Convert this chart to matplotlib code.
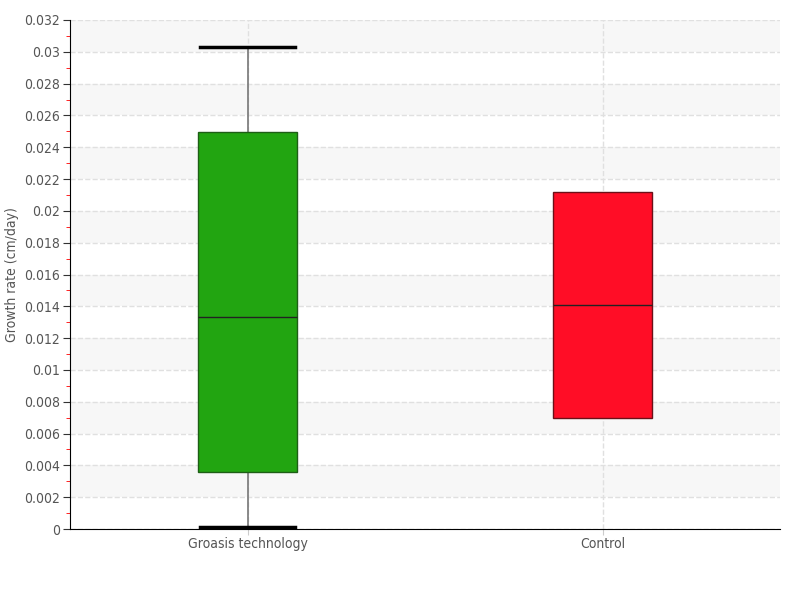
import matplotlib.pyplot as plt
from matplotlib.ticker import MultipleLocator, FuncFormatter

plt.rcParams['font.family'] = ['DejaVu Sans']
plt.rcParams['font.stretch'] = 'condensed'

groups = ["Groasis technology", "Control"]
whislo = [0.0001, 0.00698]
q1 = [0.00358, 0.00698]
med = [0.01335, 0.01408]
q3 = [0.02496, 0.02119]
whishi = [0.0303, 0.02119]
colors = ["#22a511", "#ff0d26"]
edges = ["#1e5e16", "#6b1018"]

fig = plt.figure(figsize=(8, 6), dpi=100)
ax = fig.add_axes([0.0875, 0.1183, 0.8875, 0.8484])

# alternating bands
for lo in [0.002 + 0.004 * i for i in range(8)]:
    ax.axhspan(lo, lo + 0.002, color="#f7f7f7", zorder=0, lw=0)

stats = []
for i, g in enumerate(groups):
    stats.append(dict(label=g, whislo=whislo[i], q1=q1[i], med=med[i],
                      q3=q3[i], whishi=whishi[i], fliers=[]))

bp = ax.bxp(stats, positions=[0, 1], widths=0.28, patch_artist=True,
            showfliers=False, manage_ticks=False,
            medianprops=dict(color="#222222", lw=1, zorder=4),
            whiskerprops=dict(color="#777777", lw=1.2),
            capprops=dict(color="black", lw=2.5),
            capwidths=0.27)
for i, box in enumerate(bp["boxes"]):
    box.set_facecolor(colors[i])
    box.set_edgecolor(edges[i])
    box.set_zorder(3)
for i in range(len(groups)):
    if whislo[i] == q1[i] and whishi[i] == q3[i]:
        bp["caps"][2 * i].set_visible(False)
        bp["caps"][2 * i + 1].set_visible(False)
        bp["whiskers"][2 * i].set_visible(False)
        bp["whiskers"][2 * i + 1].set_visible(False)

ax.set_xlim(-0.5, 1.5)
ax.set_ylim(0, 0.032)
ax.set_xticks([0, 1])
ax.set_xticklabels(groups)
ax.yaxis.set_major_locator(MultipleLocator(0.002))
ax.yaxis.set_minor_locator(MultipleLocator(0.001))
ax.yaxis.set_major_formatter(FuncFormatter(lambda v, p: f"{round(v, 4):g}"))
ax.tick_params(axis="y", which="major", length=5, color="#333333", labelsize=10, labelcolor="#555555", pad=2)
ax.tick_params(axis="y", which="minor", length=3, color="red")
ax.tick_params(axis="x", length=4, color="#cccccc", labelsize=10, labelcolor="#555555", pad=2)

ax.grid(True, which="major", color="#e0e0e0", linestyle="--", lw=1, zorder=1)
ax.set_axisbelow(True)
for s in ["top", "right"]:
    ax.spines[s].set_visible(False)
ax.set_ylabel("Growth rate (cm/day)", fontsize=10, color="#555555", labelpad=4)

fig.savefig("out.png")
